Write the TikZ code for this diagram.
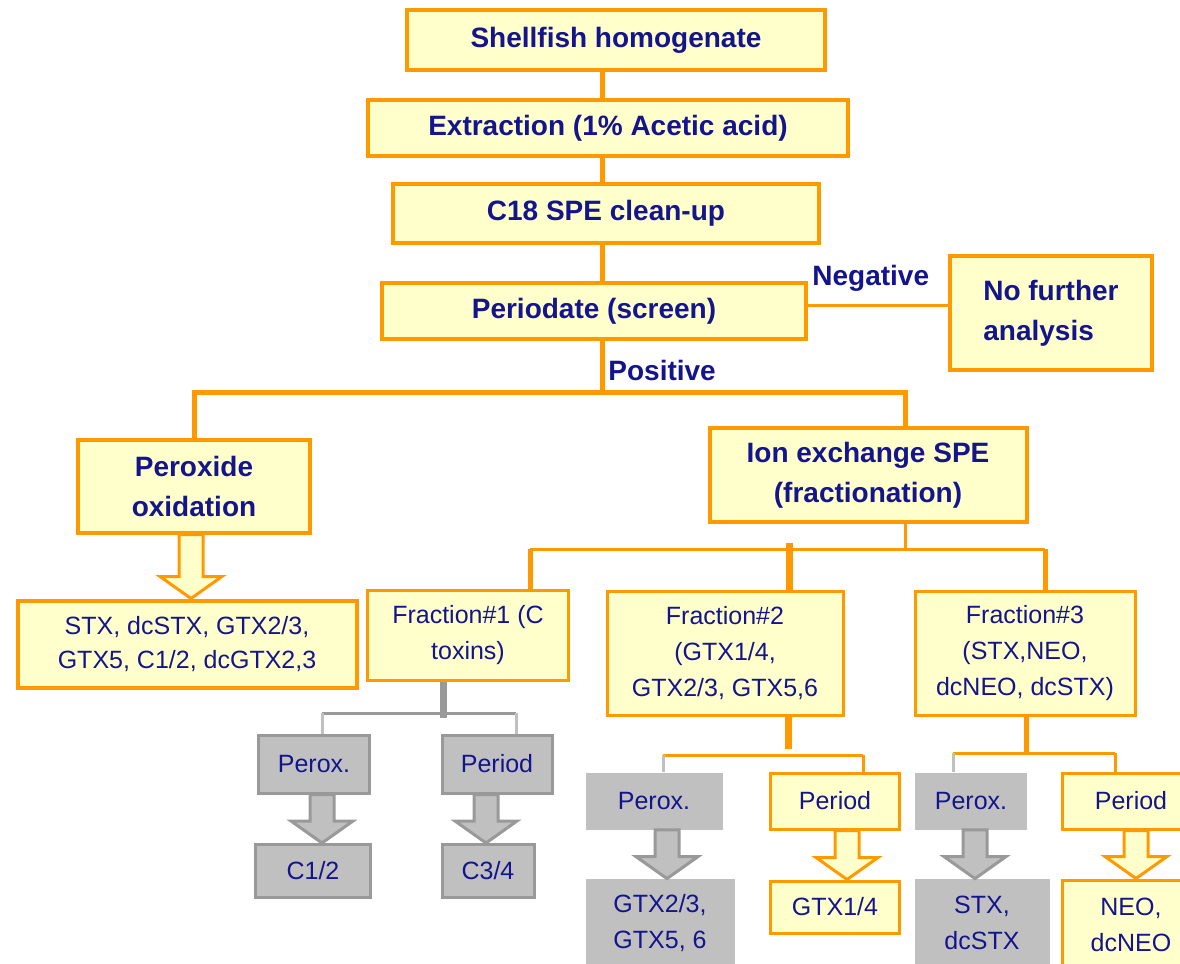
\documentclass[tikz,border=0pt]{standalone}
\usepackage{fontspec}
\setmainfont{Liberation Sans}
\usepackage{tikz}
\usetikzlibrary{calc}
\definecolor{orng}{RGB}{255,153,0}
\definecolor{ylw}{RGB}{255,255,204}
\definecolor{txt}{RGB}{20,20,140}
\definecolor{gry}{RGB}{192,192,192}
\definecolor{dgry}{RGB}{153,153,153}
\tikzset{>=latex}
\newcommand{\fatarrow}[4][yarr]{%
  \coordinate (tmpS) at ($(#2.south)+(#4,0)$);
  \coordinate (tmpT) at (tmpS |- #3.north);
  \draw[#1] ($(tmpS)+(-12,0)$) -- ($(tmpT)+(-12,-22)$) -- ($(tmpT)+(-31,-22)$) -- (tmpT)
    -- ($(tmpT)+(31,-22)$) -- ($(tmpT)+(12,-22)$) -- ($(tmpS)+(12,0)$) -- cycle;}

\begin{document}
\begin{tikzpicture}[x=0.5pt, y=-0.5pt,
  wh/.style 2 args={minimum width=#1*0.5pt, minimum height=#2*0.5pt},
  big/.style={font=\fontsize{14}{20}\selectfont\bfseries},
  small/.style={font=\fontsize{12.5}{18}\selectfont},
  ybox/.style={draw=orng, fill=ylw, line width=2pt, text=txt, align=center, inner sep=1pt},
  gbox/.style={fill=gry, text=txt, align=center, inner sep=1pt},
  gboxb/.style={gbox, draw=dgry, line width=1.5pt},
  lbl/.style={big, text=txt, inner sep=1pt},
  link/.style={draw=orng, line width=2.5pt},
  gline/.style={draw=dgry, line width=1.5pt},
  lgline/.style={draw=gry, line width=1.5pt},
  yarr/.style={draw=orng, fill=ylw, line width=1.5pt, line join=miter},
  garr/.style={draw=dgry, fill=gry, line width=1.5pt, line join=miter}]
\useasboundingbox (0,0) rectangle (1180,964);

\node[ybox, big, wh={418}{60}] (shell) at (616,40) {Shellfish homogenate};
\node[ybox, big, wh={480}{56}] (extract) at (608,128) {Extraction (1\% Acetic acid)};
\node[ybox, big, wh={426}{59}] (c18) at (606,213) {C18 SPE clean-up};
\node[ybox, big, wh={424}{56}] (period) at (594,311) {Periodate (screen)};
\node[ybox, big, wh={202}{114}, align=left] (nofurther) at (1051,313) {No further\\analysis};
\node[lbl, anchor=south west] (neg) at (810,294) {Negative};
\node[lbl, anchor=west] (pos) at (606,370) {Positive};

\node[ybox, big, wh={232}{93}] (perox) at (194,486) {Peroxide\\oxidation};
\node[ybox, small, wh={339}{87}, font=\fontsize{12.5}{17}\selectfont] (stxbox) at (187,644) {STX, dcSTX, GTX2/3,\\GTX5, C1/2, dcGTX2,3};
\node[ybox, big, wh={317}{94}] (ion) at (868,475) {Ion exchange SPE\\(fractionation)};

\node[ybox, small, wh={201}{90}, line width=1.5pt] (frac1) at (468,635) {Fraction\#1 (C\\toxins)};
\node[ybox, small, wh={236}{124}, line width=1.5pt] (frac2) at (725,653) {Fraction\#2\\(GTX1/4,\\GTX2/3, GTX5,6};
\node[ybox, small, wh={220}{124}, line width=1.5pt] (frac3) at (1025,653) {Fraction\#3\\(STX,NEO,\\dcNEO, dcSTX)};

\node[gboxb, small, wh={111}{58}] (f1perox) at (314,764) {Perox.};
\node[gboxb, small, wh={110}{58}] (f1period) at (497,764) {Period};
\node[gboxb, small, wh={115}{53}] (c12) at (313,871) {C1/2};
\node[gboxb, small, wh={92}{53}] (c34) at (488,871) {C3/4};

\node[gbox, small, wh={137}{57}] (f2perox) at (654,801) {Perox.};
\node[ybox, small, wh={129}{56}, line width=1.5pt] (f2period) at (835,801) {Period};
\node[gbox, small, wh={149}{88}] (gtx23) at (660,923) {GTX2/3,\\GTX5, 6};
\node[ybox, small, wh={129}{52}, line width=1.5pt] (gtx14) at (835,907) {GTX1/4};

\node[gbox, small, wh={112}{57}] (f3perox) at (971,801) {Perox.};
\node[ybox, small, wh={138}{56}, line width=1.5pt] (f3period) at (1131,801) {Period};
\node[gbox, small, wh={135}{88}] (stx) at (982,923) {STX,\\dcSTX};
\node[ybox, small, wh={138}{90}, line width=1.5pt] (neo) at (1131,925) {NEO,\\dcNEO};

\coordinate (spine) at (602,392);
\coordinate (ionin) at (905,428);
\coordinate (negin) at (950,305);
\draw[link] (shell.south -| spine) -- (extract.north -| spine);
\draw[link] (extract.south -| spine) -- (c18.north -| spine);
\draw[link] (c18.south -| spine) -- (period.north -| spine);
\draw[link] (period.south -| spine) -- (spine);
\draw[link] (perox.north) |- (spine) -| (ionin);
\draw[link, line width=1.5pt] (period.east |- negin) -- (negin);

\coordinate (ionout) at (905,549);
\coordinate (f1in) at (530,549);
\coordinate (f2in) at (789,543);
\coordinate (f3in) at (1045,549);
\draw[link, line width=1.5pt] (ion.south -| ionout) -- (ionout);
\draw[link, line width=1.5pt] (f1in) -- (f3in);
\draw[link] (f1in) -- (frac1.north -| f1in);
\draw[link, line width=3.5pt] (f2in) -- (frac2.north -| f2in);
\draw[link] (f3in) -- (frac3.north -| f3in);

\coordinate (f1split) at (443,718);
\coordinate (f1l) at (322,713);
\coordinate (f1r) at (516,713);
\draw[gline, line width=3.5pt] (frac1.south -| f1split) -- (f1split);
\draw[gline] (f1l) -- (f1r);
\draw[lgline] (f1l) -- (f1perox.north -| f1l);
\draw[lgline] (f1r) -- (f1period.north -| f1r);

\coordinate (f2split) at (788,749);
\coordinate (f2l) at (663,755);
\coordinate (f2r) at (863,755);
\draw[link, line width=3.5pt] (frac2.south -| f2split) -- (f2split);
\draw[link, line width=1.5pt] (f2l) -- (f2r);
\draw[lgline] (f2l) -- (f2perox.north -| f2l);
\draw[link, line width=1.5pt] (f2r) -- (f2period.north -| f2r);

\coordinate (f3split) at (1026,753);
\coordinate (f3l) at (953,753);
\coordinate (f3r) at (1115,753);
\draw[link] (frac3.south -| f3split) -- (f3split);
\draw[link, line width=1.5pt] (f3l) -- (f3r);
\draw[lgline] (f3l) -- (f3perox.north -| f3l);
\draw[link, line width=1.5pt] (f3r) -- (f3period.north -| f3r);

\fatarrow{perox}{stxbox}{-3}
\fatarrow[garr]{f1perox}{c12}{8}
\fatarrow[garr]{f1period}{c34}{-11}
\fatarrow[garr]{f2perox}{gtx23}{13}
\fatarrow{f2period}{gtx14}{12}
\fatarrow[garr]{f3perox}{stx}{4}
\fatarrow{f3period}{neo}{5}
\end{tikzpicture}
\end{document}
